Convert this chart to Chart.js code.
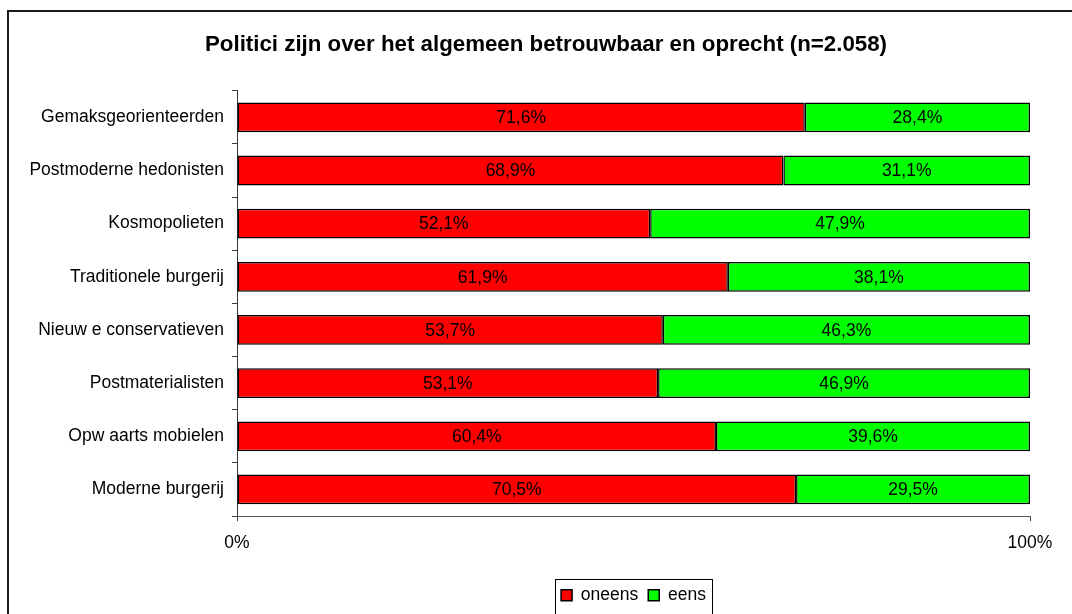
<!DOCTYPE html>
<html>
<head>
<meta charset="utf-8">
<script src="https://cdn.jsdelivr.net/npm/chart.js@4.4.0/dist/chart.umd.min.js"></script>
<style>
  html, body { margin: 0; padding: 0; background: #fff; }
  canvas { display: block; }
</style>
</head>
<body>
<canvas id="wykres" width="1072" height="614"></canvas>
<script>
// data
const categories = [
  'Gemaksgeorienteerden',
  'Postmoderne hedonisten',
  'Kosmopolieten',
  'Traditionele burgerij',
  'Nieuw e conservatieven',
  'Postmaterialisten',
  'Opw aarts mobielen',
  'Moderne burgerij'
];
const oneens = [71.6, 68.9, 52.1, 61.9, 53.7, 53.1, 60.4, 70.5];
const eens = [28.4, 31.1, 47.9, 38.1, 46.3, 46.9, 39.6, 29.5];
const xTickLabels = { 0: '0%', 100: '100%' };

const FONT = '"Liberation Sans", Arial, sans-serif';
const FS = 17.5;
// outer frame (it runs past the right and bottom edge of the picture)
const RAMKA = { x: 8, y: 11, w: 1076, h: 800 };

// white background + outer frame
const achtergrond = {
  id: 'achtergrond',
  beforeDraw(chart) {
    const ctx = chart.ctx;
    ctx.save();
    ctx.fillStyle = '#fff';
    ctx.fillRect(0, 0, chart.width, chart.height);
    ctx.strokeStyle = '#1a1a1a';
    ctx.lineWidth = 2;
    ctx.strokeRect(RAMKA.x, RAMKA.y, RAMKA.w, RAMKA.h);
    ctx.restore();
  }
};

// title centred on the frame, legend centred under the plot area
const uklad = {
  id: 'uklad',
  afterLayout(chart) {
    const t = chart.titleBlock;
    if (t) {
      const d = RAMKA.x + RAMKA.w / 2 - (t.left + t.right) / 2;
      t.left += d;
      t.right += d;
    }
    const lg = chart.legend;
    if (lg) {
      const d = (chart.chartArea.left + chart.chartArea.right) / 2 - (lg.left + lg.right) / 2;
      lg.left += d;
      lg.right += d;
      (lg.legendHitBoxes || []).forEach(b => { b.left += d; });
    }
  }
};

// percentages in the middle of every segment
const etykiety = {
  id: 'etykiety',
  afterDatasetsDraw(chart) {
    const ctx = chart.ctx;
    ctx.save();
    ctx.font = FS + 'px ' + FONT;
    ctx.fillStyle = '#000';
    ctx.textAlign = 'center';
    ctx.textBaseline = 'middle';
    chart.data.datasets.forEach((ds, i) => {
      chart.getDatasetMeta(i).data.forEach((bar, j) => {
        const txt = ds.data[j].toFixed(1).replace('.', ',') + '%';
        ctx.fillText(txt, (bar.x + bar.base) / 2, bar.y + 1);
      });
    });
    ctx.restore();
  }
};

// box round the legend
const ramkaLegendy = {
  id: 'ramkaLegendy',
  afterDraw(chart) {
    const lg = chart.legend;
    if (!lg || !lg.legendHitBoxes || !lg.legendHitBoxes.length) return;
    const boxes = lg.legendHitBoxes;
    const left = Math.min(...boxes.map(b => b.left)) - 6;
    const right = Math.max(...boxes.map(b => b.left + b.width)) + 6;
    const top = Math.min(...boxes.map(b => b.top)) - 8;
    const bottom = Math.max(...boxes.map(b => b.top + b.height)) + 10;
    const ctx = chart.ctx;
    ctx.save();
    ctx.strokeStyle = '#000';
    ctx.lineWidth = 1;
    ctx.strokeRect(Math.round(left) + 0.5, Math.round(top) + 0.5, Math.round(right - left), Math.round(bottom - top));
    ctx.restore();
  }
};

new Chart(document.getElementById('wykres'), {
  type: 'bar',
  data: {
    labels: categories,
    datasets: [
      {
        label: 'oneens',
        data: oneens,
        backgroundColor: '#ff0000',
        borderColor: '#000',
        borderWidth: 1.5,
        borderSkipped: false
      },
      {
        label: 'eens',
        data: eens,
        backgroundColor: '#00ff00',
        borderColor: '#000',
        borderWidth: 1.5,
        borderSkipped: false
      }
    ]
  },
  options: {
    indexAxis: 'y',
    responsive: false,
    animation: false,
    devicePixelRatio: 1,
    barPercentage: 0.56,
    categoryPercentage: 1,
    layout: { padding: { top: 20, right: 42, bottom: 0, left: 0 } },
    plugins: {
      title: {
        display: true,
        text: 'Politici zijn over het algemeen betrouwbaar en oprecht (n=2.058)',
        color: '#000',
        font: { family: FONT, size: 22.3, weight: 'bold' },
        padding: { top: 11, bottom: 33 }
      },
      legend: {
        position: 'bottom',
        labels: {
          color: '#000',
          font: { family: FONT, size: FS },
          boxWidth: 11,
          boxHeight: 11,
          padding: 10
        }
      },
      tooltip: { enabled: false }
    },
    scales: {
      x: {
        stacked: true,
        min: 0,
        max: 100,
        ticks: {
          stepSize: 100,
          color: '#000',
          font: { family: FONT, size: FS },
          padding: 12,
          maxRotation: 0,
          callback: v => xTickLabels[v] || ''
        },
        grid: { drawOnChartArea: false, tickLength: 5, color: '#444' },
        border: { color: '#555', width: 1 },
        afterFit(scale) { scale.height = 60.5; }
      },
      y: {
        stacked: true,
        ticks: {
          color: '#000',
          font: { family: FONT, size: FS },
          padding: 8
        },
        grid: { drawOnChartArea: false, tickLength: 5, color: '#444', offset: true },
        border: { color: '#333', width: 1 },
        afterFit(scale) { scale.width = 237; }
      }
    }
  },
  plugins: [achtergrond, uklad, etykiety, ramkaLegendy]
});
</script>
</body>
</html>
